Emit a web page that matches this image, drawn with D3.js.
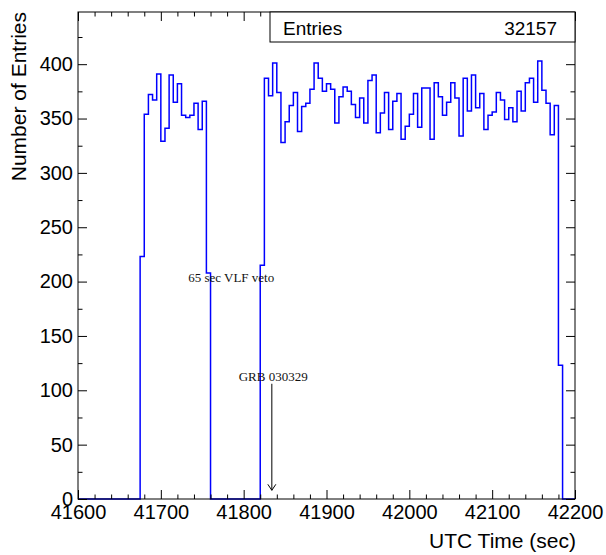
<!DOCTYPE html>
<head>
<meta charset="utf-8">
<style>
body { margin: 0; background: #fff; }
svg { font-family: "Liberation Sans", Arial, sans-serif; }
.tick text { font-size: 20px; fill: #000; }
.tick line { stroke: #000; }
.note { font-family: "Liberation Serif", "Times New Roman", serif; font-size: 13px; fill: #111; }
</style>
</head>
<body>
<svg width="606" height="555"></svg>
<script src="https://cdn.jsdelivr.net/npm/d3@7/dist/d3.min.js"></script>
<script type="text/javascript">

// histogram: 5 sec bins from 41600 to 42200
var xRange = [41600, 42200];
var binWidth = 5;
var counts = [
  0,0,0,0,0,0,0,0,0,0,0,0,0,0,0,            // 41600 - 41670
  223,354,372,367,391,329,341,390,365,382,  // 41675 - 41720
  353,351,353,364,340,366,208,              // 41725 - 41755
  0,0,0,0,0,0,0,0,0,0,0,0,                  // 41760 - 41815
  215,387,371,401,374,328,347,362,374,338,  // 41820 - 41865
  361,364,377,401,387,375,382,377,346,370,  // 41870 - 41915
  379,375,363,351,369,346,385,390,337,355,  // 41920 - 41965
  374,340,366,373,331,343,354,373,342,378,  // 41970 - 42015
  378,331,383,370,353,365,383,369,334,387,  // 42020 - 42065
  357,390,360,373,340,353,356,374,367,349,  // 42070 - 42115
  360,347,375,357,383,387,365,403,376,364,  // 42120 - 42165
  335,362,123,0,0,0                         // 42170 - 42195
];
var entries = 32157;

var xMajor = d3.range(41600, 42201, 100);
var yMajor = d3.range(0, 401, 50);

// annotations [x, y] in data units
var vetoLabel = {text: "65 sec VLF veto", at: [41733, 200]};
var grbLabel = {text: "GRB 030329", at: [41794, 109]};
var grbArrow = {x: 41834, from: 106, to: 8};

var svg = d3.select("svg");
var padL = 78, padR = 575, padT = 12, padB = 499;

var x = d3.scaleLinear().domain(xRange).range([padL, padR]);
var y = d3.scaleLinear().domain([0, 448]).range([padB, padT]);

// histogram outline
var pts = [[xRange[0], 0]];
counts.forEach(function(c, i){
  var lo = xRange[0] + i*binWidth;
  pts.push([lo, c]);
  pts.push([lo + binWidth, c]);
});
pts.push([xRange[1], 0]);

var line = d3.line()
  .x(function(d){ return x(d[0]); })
  .y(function(d){ return y(d[1]); });

svg.append("path")
  .attr("d", line(pts))
  .attr("fill", "none")
  .attr("stroke", "#0000ff")
  .attr("stroke-width", 1.5);

// axes
function minorOf(step, dom, majors){
  return d3.range(dom[0], dom[1] + 0.001, step).filter(function(v){ return majors.indexOf(v) < 0; });
}
var xMinor = minorOf(20, xRange, xMajor);
var yMinor = minorOf(25, [0, 448], yMajor);

function addAxis(axis, tx, ty){
  var g = svg.append("g").attr("transform", "translate(" + tx + "," + ty + ")").call(axis);
  g.select(".domain").remove();
  return g;
}

addAxis(d3.axisBottom(x).tickValues(xMajor).tickSize(-9).tickPadding(6).tickFormat(d3.format("d")), 0, padB);
addAxis(d3.axisBottom(x).tickValues(xMinor).tickSize(-4.5).tickFormat(""), 0, padB);
addAxis(d3.axisTop(x).tickValues(xMajor).tickSize(-9).tickFormat(""), 0, padT);
addAxis(d3.axisTop(x).tickValues(xMinor).tickSize(-4.5).tickFormat(""), 0, padT);

addAxis(d3.axisLeft(y).tickValues(yMajor).tickSize(-9).tickPadding(5).tickFormat(d3.format("d")), padL, 0);
addAxis(d3.axisLeft(y).tickValues(yMinor).tickSize(-4.5).tickFormat(""), padL, 0);
addAxis(d3.axisRight(y).tickValues(yMajor).tickSize(-9).tickFormat(""), padR, 0);
addAxis(d3.axisRight(y).tickValues(yMinor).tickSize(-4.5).tickFormat(""), padR, 0);

// frame
svg.append("rect")
  .attr("x", padL).attr("y", padT)
  .attr("width", padR - padL).attr("height", padB - padT)
  .attr("fill", "none").attr("stroke", "#000").attr("stroke-width", 1);

// axis titles
svg.append("text")
  .attr("x", padR + 1).attr("y", 548)
  .attr("text-anchor", "end")
  .style("font-size", "21px")
  .text("UTC Time (sec)");

svg.append("text")
  .attr("transform", "translate(26," + padT + ") rotate(-90)")
  .attr("text-anchor", "end")
  .style("font-size", "21px")
  .text("Number of Entries");

// stats box
svg.append("rect")
  .attr("x", 270).attr("y", padT)
  .attr("width", padR - 270).attr("height", 30)
  .attr("fill", "#fff").attr("stroke", "#000");
svg.append("text")
  .attr("x", 283).attr("y", 35)
  .style("font-size", "19px")
  .text("Entries");
svg.append("text")
  .attr("x", 557).attr("y", 35)
  .attr("text-anchor", "end")
  .style("font-size", "19px")
  .text(entries);

// annotations
svg.append("text").attr("class", "note")
  .attr("x", x(vetoLabel.at[0])).attr("y", y(vetoLabel.at[1]))
  .text(vetoLabel.text);
svg.append("text").attr("class", "note")
  .attr("x", x(grbLabel.at[0])).attr("y", y(grbLabel.at[1]))
  .text(grbLabel.text);

var ax = x(grbArrow.x), ay1 = y(grbArrow.from), ay2 = y(grbArrow.to);
svg.append("line")
  .attr("x1", ax).attr("x2", ax).attr("y1", ay1).attr("y2", ay2)
  .attr("stroke", "#000").attr("stroke-width", 1);
svg.append("path")
  .attr("d", "M" + (ax - 4) + "," + (ay2 - 6) + "L" + ax + "," + ay2 + "L" + (ax + 4) + "," + (ay2 - 6))
  .attr("fill", "none").attr("stroke", "#000").attr("stroke-width", 1);

</script>
</body>
